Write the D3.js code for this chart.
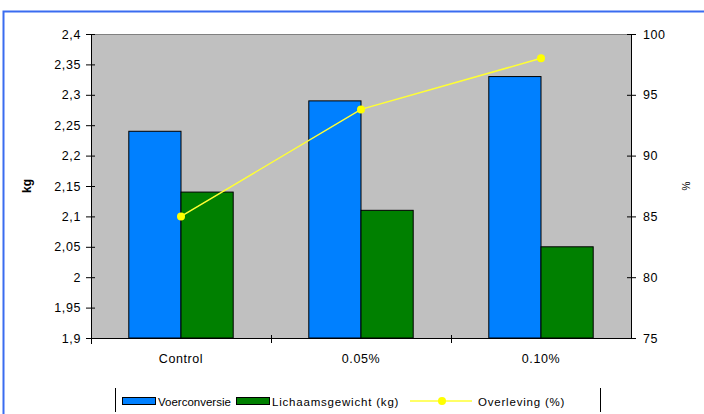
<!DOCTYPE html>
<html>
<head>
<meta charset="utf-8">
<script src="https://cdn.jsdelivr.net/npm/d3@7"></script>
<style>
  html, body { margin: 0; padding: 0; background: #ffffff; }
  svg { display: block; font-family: "Liberation Sans", Arial, sans-serif; }
</style>
</head>
<body>
<svg id="chart" width="704" height="414"></svg>
<script>
// ---- data ----
const categories = ["Control", "0.05%", "0.10%"];
const seriesNames = ["Voerconversie", "Lichaamsgewicht (kg)", "Overleving (%)"];
const voerconversie = [2.24, 2.29, 2.33];
const lichaamsgewicht = [2.14, 2.11, 2.05];
const overleving = [85, 93.8, 98];
const leftTicks = [1.9, 1.95, 2, 2.05, 2.1, 2.15, 2.2, 2.25, 2.3, 2.35, 2.4];
const rightTicks = [75, 80, 85, 90, 95, 100];

// ---- layout ----
const svg = d3.select("#chart");
const plot = { left: 91, right: 631, top: 34, bottom: 338 };
const colors = ["#0080ff", "#008000", "#ffff33"];
const tickFont = 12.5;

// outer frame (blue)
svg.append("path")
  .attr("d", "M3.5,414 L3.5,11.5 L704,11.5")
  .attr("fill", "none").attr("stroke", "#3a6cf0").attr("stroke-width", 2);

const x = d3.scaleBand().domain(categories).range([plot.left, plot.right]).padding(0);
const yL = d3.scaleLinear().domain([1.9, 2.4]).range([plot.bottom, plot.top]);
const yR = d3.scaleLinear().domain([75, 100]).range([plot.bottom, plot.top]);

// plot background
svg.append("rect")
  .attr("x", plot.left).attr("y", plot.top)
  .attr("width", plot.right - plot.left).attr("height", plot.bottom - plot.top)
  .attr("fill", "#c0c0c0");
svg.append("line")
  .attr("x1", plot.left).attr("x2", plot.right)
  .attr("y1", plot.top + 0.5).attr("y2", plot.top + 0.5)
  .attr("stroke", "#808080").attr("stroke-width", 1);

// bars
const barW = x.bandwidth() * 0.29;
const inner = d3.scaleBand().domain([0, 1]).range([0, barW * 2]).padding(0);
const barSeries = [voerconversie, lichaamsgewicht];
barSeries.forEach((vals, si) => {
  svg.append("g").selectAll("rect").data(vals).join("rect")
    .attr("x", (d, i) => x(categories[i]) + x.bandwidth() / 2 - barW + inner(si))
    .attr("y", d => yL(d))
    .attr("width", inner.bandwidth())
    .attr("height", d => yL(1.9) - yL(d))
    .attr("fill", colors[si])
    .attr("stroke", "#000").attr("stroke-width", 1);
});

// left axis
const axL = svg.append("g").attr("transform", `translate(${plot.left},0)`)
  .call(d3.axisLeft(yL).tickValues(leftTicks)
    .tickFormat(d => String(+d.toFixed(2)).replace(".", ","))
    .tickSize(5).tickSizeOuter(0).tickPadding(4));
axL.selectAll("line").attr("x2", -5).attr("x1", 4).attr("stroke", "#000");
axL.select(".domain").attr("stroke", "#000").attr("d", `M0.5,${plot.top}V${plot.bottom + 6}`);
axL.selectAll("text").attr("font-size", tickFont).attr("fill", "#000")
  .attr("letter-spacing", 0.6)
  .attr("font-family", "Liberation Sans, Arial, sans-serif").attr("x", -10);

// right axis
const axR = svg.append("g").attr("transform", `translate(${plot.right},0)`)
  .call(d3.axisRight(yR).tickValues(rightTicks).tickSize(5).tickSizeOuter(0).tickPadding(6));
axR.selectAll("line").attr("x1", -4).attr("x2", 5).attr("stroke", "#000");
axR.select(".domain").attr("stroke", "#000").attr("d", `M0.5,${plot.top}V${plot.bottom}`);
axR.selectAll("text").attr("font-size", tickFont).attr("fill", "#000")
  .attr("letter-spacing", 0.6)
  .attr("font-family", "Liberation Sans, Arial, sans-serif").attr("x", 12);

// bottom axis
const axB = svg.append("g").attr("transform", `translate(0,${plot.bottom})`)
  .call(d3.axisBottom(x).tickSize(0).tickPadding(16).tickSizeOuter(0));
axB.select(".domain").attr("stroke", "#000").attr("d", `M${plot.left - 5},0.5H${plot.right + 5}`);
axB.selectAll("text").attr("font-size", tickFont).attr("fill", "#000")
  .attr("letter-spacing", 0.6)
  .attr("font-family", "Liberation Sans, Arial, sans-serif");
// category boundary ticks
const bounds = categories.slice(1).map(c => x(c));
svg.append("g").selectAll("line").data(bounds).join("line")
  .attr("x1", d => Math.round(d) + 0.5).attr("x2", d => Math.round(d) + 0.5)
  .attr("y1", plot.bottom - 3).attr("y2", plot.bottom + 5)
  .attr("stroke", "#000");

// axis titles
svg.append("text")
  .attr("transform", `translate(31,${(plot.top + plot.bottom) / 2}) rotate(-90)`)
  .attr("text-anchor", "middle").attr("font-size", 12).attr("font-weight", "bold")
  .text("kg");
svg.append("text")
  .attr("transform", `translate(690,${(plot.top + plot.bottom) / 2}) rotate(-90)`)
  .attr("text-anchor", "middle").attr("font-size", 10)
  .text("%");

// line series
const line = d3.line().x((d, i) => x(categories[i]) + x.bandwidth() / 2).y(d => yR(d));
svg.append("path").datum(overleving)
  .attr("d", line).attr("fill", "none")
  .attr("stroke", colors[2]).attr("stroke-width", 1.5);
svg.append("g").selectAll("circle").data(overleving).join("circle")
  .attr("cx", (d, i) => x(categories[i]) + x.bandwidth() / 2)
  .attr("cy", d => yR(d))
  .attr("r", 4).attr("fill", "#ffff00");

// legend
const lg = svg.append("g");
lg.append("line").attr("x1", 115.5).attr("x2", 115.5).attr("y1", 388).attr("y2", 412).attr("stroke", "#000");
lg.append("line").attr("x1", 600.5).attr("x2", 600.5).attr("y1", 388).attr("y2", 412).attr("stroke", "#000");
const legendX = [122, 236, 410];
const textX = [158, 272, 478];
seriesNames.forEach((name, i) => {
  if (i < 2) {
    lg.append("rect").attr("x", legendX[i] + 0.5).attr("y", 397.5)
      .attr("width", 33).attr("height", 7)
      .attr("fill", colors[i]).attr("stroke", "#000");
  } else {
    lg.append("line").attr("x1", legendX[i]).attr("x2", legendX[i] + 62)
      .attr("y1", 401).attr("y2", 401)
      .attr("stroke", colors[2]).attr("stroke-width", 1.5);
    lg.append("circle").attr("cx", legendX[i] + 32).attr("cy", 401).attr("r", 4).attr("fill", "#ffff00");
  }
  lg.append("text").attr("x", textX[i]).attr("y", 405.5)
    .attr("font-size", 11.5).attr("letter-spacing", i === 0 ? 0 : 0.8)
    .attr("fill", "#000").text(name);
});
</script>
</body>
</html>
